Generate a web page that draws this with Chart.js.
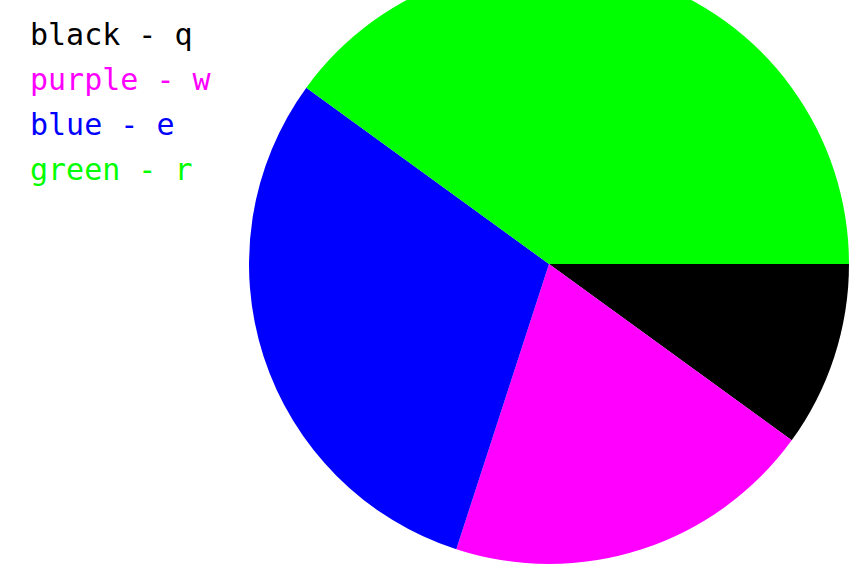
<!DOCTYPE html>
<html><head><meta charset="utf-8">
<script src="https://cdn.jsdelivr.net/npm/chart.js@4"></script>
<style>
html,body{margin:0;padding:0;width:864px;height:579px;overflow:hidden;background:#fff;}
#wrap{position:absolute;left:249px;top:-36px;width:600px;height:600px;}
#legend{position:absolute;left:30px;top:12px;font-family:"DejaVu Sans Mono",monospace;font-size:30px;line-height:45px;white-space:pre;}
</style></head>
<body>
<div id="wrap"><canvas id="c"></canvas></div>
<div id="legend"></div>
<script>
const labels = ["black - q", "purple - w", "blue - e", "green - r"];
const values = [1, 2, 3, 4];
const colors = ["#000000", "#ff00ff", "#0000ff", "#00ff00"];

const leg = document.getElementById('legend');
labels.forEach((l, i) => {
  const d = document.createElement('div');
  d.textContent = l;
  d.style.color = colors[i];
  leg.appendChild(d);
});

new Chart(document.getElementById('c'), {
  type: 'pie',
  data: { labels: labels, datasets: [{ data: values, backgroundColor: colors, borderWidth: 0 }] },
  options: {
    responsive: true, maintainAspectRatio: false, animation: false,
    rotation: 90,
    layout: { padding: 0 },
    plugins: { legend: { display: false }, tooltip: { enabled: false } }
  }
});
</script>
</body></html>
